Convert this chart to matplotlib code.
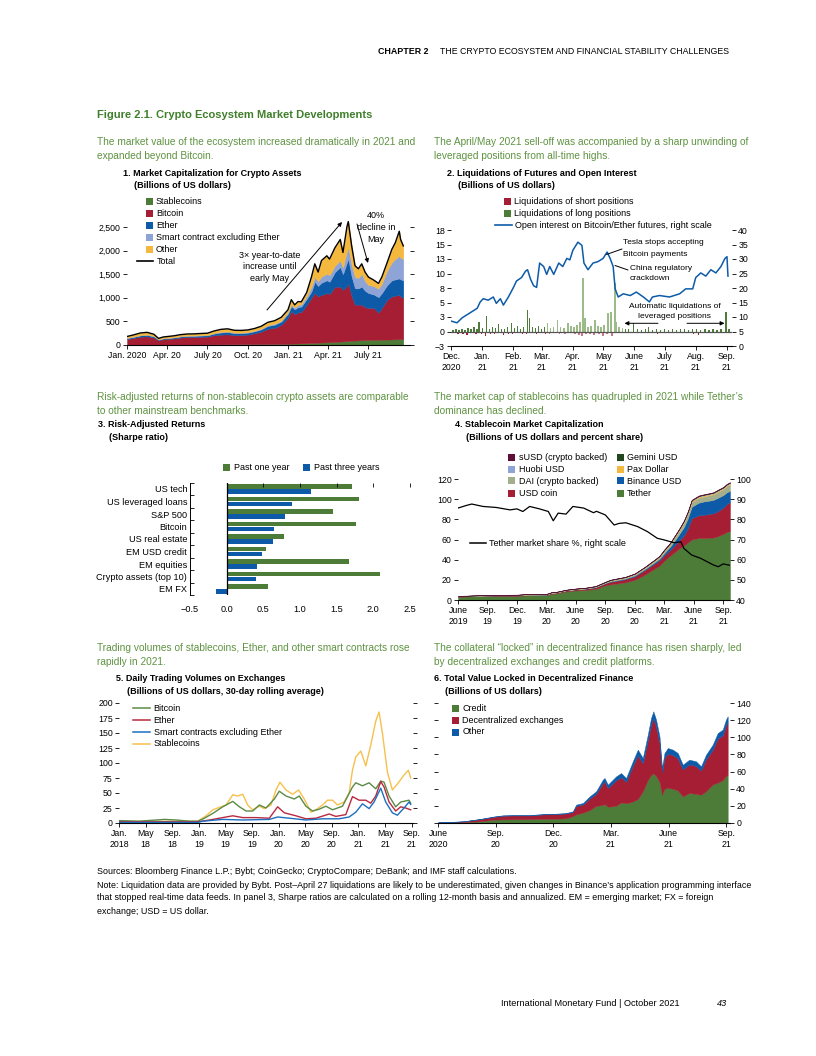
import matplotlib
matplotlib.use("Agg")
import matplotlib.pyplot as plt
from matplotlib.patches import Rectangle, FancyArrowPatch
from matplotlib.lines import Line2D
import numpy as np

plt.rcParams['font.family'] = ['Liberation Sans Narrow', 'Liberation Sans', 'DejaVu Sans']

# ---------------- data ----------------
# panel 1: market cap, months since Jan 2020
p1_month = [0, 0.5, 1, 1.5, 2, 2.35, 2.7, 3, 3.5, 4, 4.5, 5, 5.5, 6, 6.5, 7, 7.5, 8, 8.5, 9,
            9.5, 10, 10.5, 11, 11.5, 12, 12.25, 12.5, 12.75, 13, 13.4, 13.75, 14, 14.25, 14.5,
            14.9, 15.1, 15.5, 15.9, 16.1, 16.4, 16.5, 16.75, 17, 17.25, 17.5, 17.75, 18, 18.4,
            18.75, 19, 19.4, 19.75, 20, 20.3, 20.4, 20.6]
p1_stable = [5, 5, 5, 6, 6, 6, 7, 7, 8, 8, 9, 10, 11, 12, 13, 14, 16, 18, 19, 20,
             21, 22, 23, 24, 25, 27, 28, 30, 33, 35, 38, 42, 45, 48, 52,
             57, 60, 65, 72, 76, 82, 84, 90, 95, 98, 102, 106, 110, 111,
             112, 113, 115, 118, 120, 122, 123, 125]
p1_bitcoin = [120, 145, 170, 178, 150, 95, 115, 122, 130, 150, 160, 160, 162, 165, 195, 205, 210, 190, 190, 200,
              225, 260, 320, 340, 400, 548, 690, 620, 657, 665, 812, 958, 1055, 982, 1008,
              1043, 1020, 1170, 1163, 1089, 1168, 1221, 940, 760, 757, 753, 694, 675, 674,
              571, 672, 845, 912, 925, 938, 907, 870]
p1_ether = [20, 22, 28, 30, 25, 13, 16, 17, 20, 22, 23, 24, 26, 27, 35, 45, 48, 42, 40, 40,
            43, 48, 60, 65, 70, 85, 102, 105, 110, 115, 125, 130, 240, 220, 260,
            270, 260, 310, 415, 335, 500, 515, 420, 345, 345, 380, 350, 315, 285,
            330, 315, 310, 340, 345, 350, 360, 375]
p1_smart = [5, 6, 7, 8, 7, 4, 5, 5, 6, 7, 7, 7, 8, 8, 10, 12, 13, 12, 12, 12,
            12, 14, 18, 20, 22, 30, 40, 40, 45, 50, 60, 105, 100, 100, 130,
            140, 140, 135, 140, 140, 240, 245, 250, 240, 220, 275, 200, 170, 180,
            180, 200, 310, 380, 430, 480, 460, 450]
p1_other = [30, 37, 45, 46, 40, 22, 27, 28, 31, 33, 34, 35, 37, 38, 45, 55, 56, 50, 48, 47,
            48, 52, 60, 65, 70, 55, 100, 55, 75, 50, 80, 205, 280, 195, 340,
            380, 340, 380, 445, 320, 520, 550, 400, 240, 195, 210, 195, 170, 125,
            112, 140, 170, 280, 345, 520, 385, 280]
p1_ticks = [0, 3, 6, 9, 12, 15, 18]
p1_ticklabels = ['Jan. 2020', 'Apr. 20', 'July 20', 'Oct. 20', 'Jan. 21', 'Apr. 21', 'July 21']

# panel 2: liquidations and open interest, days since Dec 1 2020
long_days = [2, 5, 8, 11, 14, 17, 20, 23, 26, 28, 31, 35, 38, 41, 44, 47, 50, 53, 56, 60,
             63, 66, 69, 72, 76, 78, 81, 84, 87, 90, 93, 96, 99, 102, 106, 109, 112, 116, 119, 122,
             125, 128, 131, 133, 136, 139, 143, 146, 149, 152, 156, 159, 163, 164, 167, 170, 173, 176, 181, 185,
             189, 193, 196, 200, 204, 208, 212, 216, 220, 224, 228, 232, 236, 240, 244, 248, 252, 256, 260, 264,
             268, 273, 276]
long_vals = [0.3, 0.4, 0.2, 0.5, 0.3, 0.6, 0.4, 0.7, 0.5, 1.6, 0.6, 2.6, 0.5, 0.8, 0.6, 1.3, 0.5, 0.4, 0.7, 1.4,
             0.6, 0.9, 0.5, 0.8, 3.7, 2.3, 0.7, 0.6, 0.9, 0.5, 0.8, 1.4, 0.6, 0.7, 2.0, 0.8, 0.6, 1.4, 0.9, 0.7,
             1.1, 1.7, 9.3, 2.3, 0.8, 1.0, 2.0, 0.9, 0.7, 1.2, 3.2, 3.3, 8.4, 1.7, 0.8, 0.6, 0.5, 0.4, 1.4, 0.5,
             0.3, 0.4, 0.7, 0.3, 0.4, 0.3, 0.5, 0.3, 0.4, 0.3, 0.5, 0.4, 0.3, 0.4, 0.5, 0.3, 0.4, 0.3, 0.4, 0.3,
             0.4, 3.3, 0.4]
short_days = [3, 7, 12, 16, 21, 25, 30, 34, 39, 43, 48, 52, 57, 61, 66, 71, 75, 80, 85, 89,
              94, 98, 103, 108, 113, 118, 123, 127, 130, 134, 138, 142, 147, 151, 155, 160, 165, 171, 177, 184,
              191, 198, 205, 213, 220, 227, 234, 241, 246, 252, 259, 266, 272]
short_vals = [-0.3, -0.5, -0.4, -0.6, -0.3, -0.4, -0.5, -0.7, -0.4, -0.5, -0.3, -0.6, -0.4, -0.5, -0.3, -0.4, -0.5, -0.3, -0.4, -0.3,
              -0.5, -0.4, -0.3, -0.5, -0.4, -0.3, -0.5, -0.6, -0.8, -0.5, -0.4, -0.6, -0.5, -0.7, -0.4, -0.8, -0.3, -0.3, -0.2, -0.3,
              -0.2, -0.3, -0.4, -0.2, -0.3, -0.2, -0.3, -0.4, -0.6, -0.3, -0.2, -0.3, -0.2]
oi_days = [0, 6, 11, 16, 21, 26, 29, 32, 37, 42, 45, 49, 52, 57, 62, 65, 70, 74, 76, 79,
           82, 85, 88, 92, 95, 98, 102, 107, 111, 115, 118, 121, 126, 130, 132, 136, 141, 146, 151, 155,
           158, 161, 163, 166, 171, 178, 184, 191, 197, 200, 207, 217, 227, 233, 240, 243, 248, 253, 258, 263,
           268, 272, 274, 275]
oi_vals = [8.6, 8.0, 9.7, 10.8, 11.9, 13.0, 15.2, 16.3, 15.8, 16.9, 14.7, 16.3, 14.1, 16.9, 20.2, 22.4, 23.6, 25.8, 26.3, 23.0,
           20.8, 20.2, 28.6, 27.4, 24.7, 27.4, 24.7, 28.6, 27.4, 30.2, 29.7, 33.0, 35.8, 34.7, 28.6, 26.3, 28.6, 29.1, 30.2, 32.4,
           30.2, 27.4, 19.7, 16.9, 18.0, 17.4, 18.6, 16.9, 15.2, 16.9, 17.4, 16.9, 18.0, 19.7, 19.7, 23.6, 25.2, 24.1, 26.3, 25.2,
           27.4, 30.2, 30.8, 24.1]
p2_ticks = [0, 31, 62, 90, 121, 151, 182, 212, 243, 274]
p2_ticklabels = ['Dec.\n2020', 'Jan.\n21', 'Feb.\n21', 'Mar.\n21', 'Apr.\n21', 'May\n21',
                 'June\n21', 'July\n21', 'Aug.\n21', 'Sep.\n21']

# panel 3: Sharpe ratios
p3_cats = ['US tech', 'US leveraged loans', 'S&P 500', 'Bitcoin', 'US real estate',
           'EM USD credit', 'EM equities', 'Crypto assets (top 10)', 'EM FX']
p3_one_year = [1.71, 1.80, 1.45, 1.77, 0.78, 0.53, 1.67, 2.09, 0.56]
p3_three_year = [1.15, 0.89, 0.79, 0.64, 0.63, 0.48, 0.42, 0.40, -0.14]

# panel 4: stablecoins, months since June 2019
p4_month = [0, 1, 2, 3, 4, 5, 6, 7, 8, 9, 9.5, 10, 11, 12, 13, 14, 15, 15.5, 16, 17,
            18, 19, 20, 20.5, 21, 21.6, 22, 22.5, 23, 23.4, 23.8, 24.5, 25, 25.5, 26, 26.4, 27, 27.4, 27.7]
p4_tether = [3.2, 3.5, 3.8, 4.0, 4.1, 4.1, 4.1, 4.6, 4.6, 4.7, 6.2, 6.5, 8.5, 9.5, 10, 11, 14.5, 15.5, 16, 17.5,
             20, 25, 31, 34, 39, 44, 47, 51, 54, 57, 60, 61.5, 61.5, 61.7, 62, 63, 65.5, 67.5, 68.5]
p4_usdc = [0.4, 0.45, 0.45, 0.5, 0.5, 0.5, 0.5, 0.55, 0.6, 0.6, 0.7, 0.8, 0.9, 1.0, 1.2, 1.5, 2.0, 2.5, 2.8, 3.0,
           3.5, 4.5, 5.0, 5.3, 5.5, 5.5, 6.5, 8, 10, 14, 21, 22.5, 23, 23.5, 24, 24.8, 26, 28, 28.5]
p4_busd = [0, 0, 0, 0.02, 0.03, 0.05, 0.1, 0.15, 0.15, 0.15, 0.15, 0.15, 0.15, 0.15, 0.2, 0.2, 0.3, 0.4, 0.5, 0.6,
           0.8, 0.9, 1.3, 1.5, 2.0, 3.3, 4.5, 6, 8.2, 10, 11.5, 12.5, 13.2, 13.2, 13.3, 13.3, 12.5, 11.5, 11.3]
p4_dai = [0.08, 0.08, 0.08, 0.08, 0.08, 0.08, 0.08, 0.1, 0.1, 0.1, 0.1, 0.1, 0.12, 0.13, 0.2, 0.4, 0.5, 0.8, 0.9, 0.9,
          1.1, 1.3, 1.4, 1.5, 2.0, 2.3, 3.0, 3.5, 4.5, 4.8, 4.8, 5.0, 5.0, 5.3, 5.5, 5.8, 6.0, 6.3, 6.5]
p4_pax = [0.2, 0.22, 0.24, 0.25, 0.24, 0.24, 0.24, 0.23, 0.24, 0.25, 0.25, 0.25, 0.25, 0.25, 0.25, 0.25, 0.25, 0.28, 0.3, 0.35,
          0.4, 0.5, 0.6, 0.7, 0.75, 0.8, 0.85, 0.9, 0.95, 0.95, 0.95, 0.95, 0.95, 0.95, 0.95, 0.95, 0.95, 0.95, 0.95]
p4_huobi = [0.0, 0.0, 0.0, 0.01, 0.03, 0.05, 0.1, 0.13, 0.15, 0.15, 0.15, 0.15, 0.15, 0.2, 0.2, 0.25, 0.25, 0.25, 0.25, 0.25,
            0.25, 0.25, 0.3, 0.3, 0.35, 0.4, 0.45, 0.5, 0.6, 0.6, 0.6, 0.6, 0.6, 0.6, 0.6, 0.6, 0.6, 0.6, 0.6]
p4_gemini = [0.01, 0.01, 0.02, 0.02, 0.03, 0.03, 0.03, 0.03, 0.03, 0.03, 0.03, 0.03, 0.04, 0.05, 0.05, 0.06, 0.08, 0.1, 0.1, 0.1,
             0.1, 0.1, 0.12, 0.12, 0.15, 0.15, 0.15, 0.15, 0.2, 0.2, 0.2, 0.2, 0.2, 0.2, 0.2, 0.2, 0.2, 0.2, 0.2]
p4_susd = [0.2, 0.2, 0.2, 0.2, 0.2, 0.2, 0.2, 0.2, 0.2, 0.2, 0.2, 0.2, 0.2, 0.2, 0.25, 0.3, 0.3, 0.3, 0.3, 0.3,
           0.3, 0.3, 0.3, 0.35, 0.4, 0.4, 0.4, 0.4, 0.4, 0.4, 0.4, 0.4, 0.4, 0.4, 0.4, 0.4, 0.4, 0.4, 0.4]
p4_share_month = [0, 0.85, 1.4, 2.55, 3.9, 5.3, 6.0, 6.6, 7.3, 8.3, 9.2, 9.7, 10.2, 11.0, 11.7, 12.8, 13.8, 14.1,
                  15.0, 15.9, 16.4, 17.1, 18.3, 19.3, 20.3, 21.0, 22.0, 22.7, 23.0, 23.8, 24.7, 26.0, 26.5, 27.0, 27.7]
p4_tether_share = [85.6, 86.9, 87.6, 86.4, 85.9, 84.7, 85.2, 83.9, 86.4, 85.2, 83.9, 79.3, 83.1, 82.6, 86.4, 85.6, 83.3, 84.0,
                   82.2, 77.2, 78.0, 78.3, 76.4, 73.9, 70.6, 69.8, 68.4, 68.9, 65.6, 62.3, 60.7, 57.4, 56.5, 57.9, 57.2]
p4_ticks = [0, 3, 6, 9, 12, 15, 18, 21, 24, 27]
p4_ticklabels = ['June\n2019', 'Sep.\n19', 'Dec.\n19', 'Mar.\n20', 'June\n20', 'Sep.\n20',
                 'Dec.\n20', 'Mar.\n21', 'June\n21', 'Sep.\n21']

# panel 5: trading volumes, months since Jan 2018
btc_m = [0, 3, 6.85, 8.6, 10.6, 11.85, 12.85, 14.1, 15.6, 17.1, 18.1, 19.1, 20.1, 21.1, 22.1, 23.35, 24.1, 25.1, 26.35,
         27.1, 28.1, 29.1, 30.1, 31.1, 32.1, 33.6, 35.1, 35.6, 36.6, 37.6, 38.6, 39.35, 39.85, 40.6, 41.6, 42.35, 43.6, 43.85]
btc_vol = [4, 3, 6, 5, 3, 3, 8, 16, 27, 36, 27, 20, 20, 30, 25, 40, 53, 45, 40,
           45, 28, 20, 23, 28, 22, 28, 60, 67, 62, 67, 57, 70, 68, 45, 27, 35, 38, 33]
eth_m = [0, 6, 11.85, 13.6, 15.6, 17.1, 18.6, 20.6, 22.6, 23.85, 24.85, 26.6, 28.1, 29.6, 31.6, 32.6, 34.1, 35.1,
         36.1, 37.1, 37.85, 38.6, 39.35, 39.85, 40.6, 41.6, 42.35, 43.1, 43.85]
eth_vol = [2, 2, 2, 5, 9, 12, 9, 9, 8, 27, 17, 12, 7, 8, 15, 11, 14, 44,
           38, 38, 33, 45, 69, 60, 35, 20, 27, 25, 22]
smart_m = [0, 11.85, 12.6, 15.6, 18.6, 22.6, 23.85, 25.6, 28.1, 30.6, 33.1, 34.6, 35.6, 36.6, 37.6, 38.35, 39.35,
           40.1, 41.1, 41.85, 42.85, 43.6, 43.85]
smart_vol = [1, 1, 3, 6, 5, 6, 10, 8, 5, 7, 7, 10, 18, 32, 24, 35, 58,
             35, 17, 13, 25, 35, 31]
stable_m = [0, 4, 8, 11.85, 13.1, 14.1, 15.35, 16.1, 17.1, 17.85, 18.6, 19.35, 20.1, 21.1, 21.85, 22.85, 23.6, 24.2,
            25.1, 26.1, 27.0, 27.85, 28.85, 29.6, 30.6, 31.35, 32.1, 32.85, 33.85, 34.6, 35.1, 35.6, 36.35, 37.1,
            37.85, 38.6, 39.1, 39.6, 40.35, 41.1, 41.85, 42.85, 43.5, 43.85]
stable_vol = [3, 2.5, 3, 3, 12, 22, 27, 30, 47, 45, 48, 30, 22, 28, 24, 30, 55, 68,
              55, 48, 55, 40, 18, 22, 30, 38, 38, 30, 35, 50, 88, 110, 120, 95,
              130, 170, 185, 150, 85, 55, 65, 80, 88, 75]
p5_ticks = [0, 4, 8, 12, 16, 20, 24, 28, 32, 36, 40, 44]
p5_ticklabels = ['Jan.\n2018', 'May\n18', 'Sep.\n18', 'Jan.\n19', 'May\n19', 'Sep.\n19',
                 'Jan.\n20', 'May\n20', 'Sep.\n20', 'Jan.\n21', 'May\n21', 'Sep.\n21']

# panel 6: total value locked, months since June 2020
p6_month = [0, 1.3, 2.17, 2.95, 3.38, 3.9, 4.77, 5.46, 6.15, 6.67, 7.02, 7.19, 7.54, 7.89, 8.23, 8.58, 8.67, 8.84,
            9.27, 9.53, 9.79, 10.14, 10.4, 10.66, 10.92, 11.09, 11.21, 11.35, 11.53, 11.66, 11.79, 11.96, 12.22,
            12.48, 12.74, 13.08, 13.43, 13.69, 13.95, 14.3, 14.56, 14.82, 14.99, 15.08]
p6_credit = [0.3, 1.0, 2, 4, 4.2, 4.3, 4.5, 4.8, 5, 5.5, 8, 10, 12, 15, 20, 21, 22, 19,
             20, 24, 23, 25, 28, 37, 50, 56, 58, 55, 48, 33, 40, 41, 40,
             38, 31, 35, 34, 33, 37, 45, 47, 50, 55, 56]
p6_dex = [0.4, 0.8, 2.4, 3.3, 4.3, 4.5, 4.3, 5.2, 5.4, 5.6, 4.9, 9.9, 9.5, 13.5, 14, 25.6, 26.3, 21.7,
          29.9, 29.3, 25, 41.5, 51.1, 32.8, 46, 58.5, 64.3, 57.6, 45.5, 26.2, 35.7, 40, 39.1,
          37.7, 31.5, 33.4, 32.5, 28.1, 37.2, 40.4, 51.5, 52.4, 58.6, 61.5]
p6_other = [0.1, 0.2, 0.3, 0.5, 0.5, 0.5, 0.5, 0.5, 0.5, 0.6, 0.7, 1.5, 1.8, 2.5, 3, 4, 4.2, 4,
            4.5, 5, 4.5, 5.5, 6.5, 6, 7, 8, 8, 8, 7.5, 5, 6, 6.5, 6.5,
            6, 5.5, 5.5, 5.5, 5, 5.5, 6, 6.5, 6.5, 7, 7]
p6_ticks = [0, 3, 6, 9, 12, 15]
p6_ticklabels = ['June\n2020', 'Sep.\n20', 'Dec.\n20', 'Mar.\n21', 'June\n21', 'Sep.\n21']

# ---------------- style ----------------
GREEN = '#4d7c38'
LGREEN = '#9dba89'
RED = '#a61e34'
LRED = '#c97a86'
BLUE = '#0d5ba8'
LBLUE = '#8fa4d6'
YELLOW = '#f4b83f'
DAI_C = '#a3af8c'
GEMINI_C = '#22461d'
SUSD_C = '#5e0f38'
TITLE_GREEN = '#3f7f2b'
INTRO_GREEN = '#5f9342'

TICK = 6.3
LEG = 6.5
TITLE = 6.5
INTRO = 7.3

W, H = 816, 1056
fig = plt.figure(figsize=(W / 100, H / 100), dpi=100)


def px_axes(l, t, r, b):
    return fig.add_axes([l / W, 1 - b / H, (r - l) / W, (b - t) / H])


def ftext(x, y, s, **kw):
    kw.setdefault('va', 'center')
    kw.setdefault('ha', 'left')
    return fig.text(x / W, 1 - y / H, s, **kw)


def key_patch(x, y, color, label, w=7):
    fig.add_artist(Rectangle((x / W, 1 - (y + w / 2) / H), w / W, w / H,
                             transform=fig.transFigure, color=color, lw=0))
    ftext(x + w + 3.5, y, label, fontsize=LEG)


def key_line(x0, x1, y, color, label, lw=1.2):
    fig.add_artist(Line2D([x0 / W, x1 / W], [1 - y / H, 1 - y / H],
                          transform=fig.transFigure, color=color, lw=lw))
    ftext(x1 + 3.5, y, label, fontsize=LEG)


def farrow(x0, y0, x1, y1, style='-|>'):
    fig.add_artist(FancyArrowPatch((x0 / W, 1 - y0 / H), (x1 / W, 1 - y1 / H),
                                   transform=fig.transFigure, arrowstyle=style,
                                   mutation_scale=6, lw=0.7, color='black',
                                   shrinkA=0, shrinkB=0))


def base(ax):
    for s in ('top', 'left', 'right'):
        ax.spines[s].set_visible(False)
    ax.spines['bottom'].set_linewidth(0.8)
    ax.set_facecolor('none')
    ax.tick_params(labelsize=TICK, length=3, width=0.6, pad=1.5, direction='out')


# ---------------- page text ----------------
ftext(428, 52, 'CHAPTER 2', ha='right', fontsize=6.4, fontweight='bold')
ftext(440, 52, 'THE CRYPTO ECOSYSTEM AND FINANCIAL STABILITY CHALLENGES', fontsize=6.3)
ftext(97, 115, 'Figure 2.1. Crypto Ecosystem Market Developments', fontsize=8.05,
      fontweight='bold', color=TITLE_GREEN)

intros = [
    (97, 142, 'The market value of the ecosystem increased dramatically in 2021 and'),
    (97, 156, 'expanded beyond Bitcoin.'),
    (434, 142, 'The April/May 2021 sell-off was accompanied by a sharp unwinding of'),
    (434, 156, 'leveraged positions from all-time highs.'),
    (97, 397, 'Risk-adjusted returns of non-stablecoin crypto assets are comparable'),
    (97, 411, 'to other mainstream benchmarks.'),
    (434, 397, 'The market cap of stablecoins has quadrupled in 2021 while Tether\u2019s'),
    (434, 411, 'dominance has declined.'),
    (97, 648, 'Trading volumes of stablecoins, Ether, and other smart contracts rose'),
    (97, 662, 'rapidly in 2021.'),
    (434, 648, 'The collateral \u201clocked\u201d in decentralized finance has risen sharply, led'),
    (434, 662, 'by decentralized exchanges and credit platforms.'),
]
for x, y, s in intros:
    ftext(x, y, s, fontsize=INTRO, color=INTRO_GREEN)

titles = [
    (123, 173, '1. Market Capitalization for Crypto Assets'), (134, 185, '(Billions of US dollars)'),
    (447, 173, '2. Liquidations of Futures and Open Interest'), (458, 185, '(Billions of US dollars)'),
    (98, 424.5, '3. Risk-Adjusted Returns'), (109, 437, '(Sharpe ratio)'),
    (455, 424.5, '4. Stablecoin Market Capitalization'), (466, 437, '(Billions of US dollars and percent share)'),
    (116, 678.5, '5. Daily Trading Volumes on Exchanges'), (127, 691, '(Billions of US dollars, 30-day rolling average)'),
    (434, 678.5, '6. Total Value Locked in Decentralized Finance'), (445, 691, '(Billions of US dollars)'),
]
for x, y, s in titles:
    ftext(x, y, s, fontsize=TITLE, fontweight='bold')

notes = [
    'Sources: Bloomberg Finance L.P.; Bybt; CoinGecko; CryptoCompare; DeBank; and IMF staff calculations.',
    'Note: Liquidation data are provided by Bybt. Post\u2013April 27 liquidations are likely to be underestimated, '
    'given changes in Binance\u2019s application programming interface',
    'that stopped real-time data feeds. In panel 3, Sharpe ratios are calculated on a rolling 12-month basis '
    'and annualized. EM = emerging market; FX = foreign',
    'exchange; USD = US dollar.',
]
for i, s in enumerate(notes):
    ftext(97, 872 + 13 * i, s, fontsize=6.38)

ftext(680, 1004, 'International Monetary Fund | October 2021', ha='right', fontsize=6.6)
ftext(727, 1004, '43', ha='right', fontsize=6.6, style='italic')

# ---------------- panel 1 ----------------
ax1 = px_axes(127, 215.2, 410, 345)
base(ax1)
p1_total = np.sum([p1_stable, p1_bitcoin, p1_ether, p1_smart, p1_other], axis=0)
ax1.stackplot(p1_month, p1_stable, p1_bitcoin, p1_ether, p1_smart, p1_other,
              colors=[GREEN, RED, BLUE, LBLUE, YELLOW], lw=0.3, edgecolor='face')
ax1.plot(p1_month, p1_total, color='black', lw=1.0)
ax1.set_xlim(0, 21.1)
ax1.set_ylim(0, 2750)
ax1.set_yticks([0, 500, 1000, 1500, 2000, 2500],
               labels=['0', '500', '1,000', '1,500', '2,000', '2,500'])
ax1.set_xticks(p1_ticks, labels=p1_ticklabels)
ax1.tick_params(axis='y', right=True)

for i, (c, lab) in enumerate([(GREEN, 'Stablecoins'), (RED, 'Bitcoin'), (BLUE, 'Ether'),
                              (LBLUE, 'Smart contract excluding Ether'), (YELLOW, 'Other')]):
    key_patch(145.5, 201.7 + 11.85 * i, c, lab)
key_line(137, 153.3, 261, 'black', 'Total', lw=1.2)

for i, s in enumerate(['3\u00d7 year-to-date', 'increase until', 'early May']):
    ftext(270, 255 + 11.7 * i, s, ha='center', fontsize=6.5)
for i, s in enumerate(['40%', 'decline in', 'May']):
    ftext(375.7, 215 + 12 * i, s, ha='center', fontsize=6.5)
farrow(267, 310, 342, 222)
farrow(357, 224, 368, 263)

# ---------------- panel 2 ----------------
ax2 = px_axes(451, 221.3, 732, 346)
base(ax2)
# bars in the March-May stretch are drawn in the lighter shade, as in the source
long_cols = [LGREEN if 95 <= d <= 170 else GREEN for d in long_days]
short_cols = [LRED if 95 <= d <= 170 else RED for d in short_days]
ax2.bar(long_days, long_vals, width=1.4, color=long_cols, lw=0)
ax2.bar(short_days, short_vals, width=1.4, color=short_cols, lw=0)
ax2.axhline(0, color='#555555', lw=0.9)
ax2.set_xlim(0, 279)
ax2.set_ylim(-2.5, 19)
ax2.set_yticks([-2.5, 0, 2.5, 5, 7.5, 10, 12.5, 15, 17.5],
               labels=['\u22123', '0', '3', '5', '8', '10', '13', '15', '18'])
ax2.set_xticks(p2_ticks, labels=p2_ticklabels)
ax2r = ax2.twinx()
for s in ax2r.spines.values():
    s.set_visible(False)
ax2r.plot(oi_days, oi_vals, color=BLUE, lw=1.1)
ax2r.set_ylim(0, 43)
ax2r.set_yticks(range(0, 41, 5))
ax2r.tick_params(labelsize=TICK, length=3, width=0.6, pad=1.5, direction='out')

key_patch(504, 201.7, RED, 'Liquidations of short positions')
key_patch(504, 213.3, GREEN, 'Liquidations of long positions')
key_line(495, 511.7, 225, BLUE, 'Open interest on Bitcoin/Ether futures, right scale', lw=1.2)

ftext(623, 243, 'Tesla stops accepting', fontsize=6.0)
ftext(623, 254, 'Bitcoin payments', fontsize=6.0)
farrow(622, 249, 606.5, 254.5, style='-')
ftext(629.5, 268.5, 'China regulatory', fontsize=6.0)
ftext(629.5, 279, 'crackdown', fontsize=6.0)
farrow(628, 270, 615, 265.5, style='-')
ftext(674.5, 306, 'Automatic liquidations of', ha='center', fontsize=6.0)
ftext(674.5, 316.5, 'leveraged positions', ha='center', fontsize=6.0)
farrow(658, 323.3, 624.5, 323.3)
farrow(687, 323.3, 724.5, 323.3)

# ---------------- panel 3 ----------------
ax3 = px_axes(190, 482.75, 410, 595.25)
idx = np.arange(len(p3_cats))
ax3.barh(idx - 0.19, p3_one_year, height=0.37, color=GREEN, lw=0)
ax3.barh(idx + 0.19, p3_three_year, height=0.37, color=BLUE, lw=0)
ax3.axvline(0, color='black', lw=0.9)
ax3.set_xlim(-0.5, 2.5)
ax3.set_ylim(len(p3_cats) - 0.5, -0.5)
for s in ('top', 'right', 'bottom'):
    ax3.spines[s].set_visible(False)
ax3.spines['left'].set_linewidth(0.7)
ax3.set_facecolor('none')
ax3.set_yticks(idx, labels=p3_cats)
ax3.set_yticks(np.arange(-0.5, len(p3_cats), 1), minor=True)
ax3.tick_params(axis='y', which='major', length=0, pad=2, labelsize=6.6)
ax3.tick_params(axis='y', which='minor', length=3, width=0.6, direction='in')
ax3.set_xticks([-0.5, 0, 0.5, 1.0, 1.5, 2.0, 2.5],
               labels=['\u22120.5', '0.0', '0.5', '1.0', '1.5', '2.0', '2.5'])
ax3.tick_params(axis='x', bottom=False, top=True, labelbottom=True, length=3, width=0.6,
                direction='in', labelsize=6.6, pad=7)

key_patch(223.3, 467.3, GREEN, 'Past one year')
key_patch(303.3, 467.3, BLUE, 'Past three years')

# ---------------- panel 4 ----------------
ax4 = px_axes(458, 474, 730, 600)
base(ax4)
ax4.stackplot(p4_month, p4_tether, p4_usdc, p4_busd, p4_dai, p4_pax, p4_huobi, p4_gemini, p4_susd,
              colors=[GREEN, RED, BLUE, DAI_C, YELLOW, LBLUE, GEMINI_C, SUSD_C],
              lw=0.3, edgecolor='face')
ax4.set_xlim(0, 27.7)
ax4.set_ylim(0, 125)
ax4.set_yticks(range(0, 121, 20))
ax4.set_xticks(p4_ticks, labels=p4_ticklabels)
ax4r = ax4.twinx()
for s in ax4r.spines.values():
    s.set_visible(False)
ax4r.plot(p4_share_month, p4_tether_share, color='black', lw=0.9)
ax4r.set_ylim(40, 102.5)
ax4r.set_yticks(range(40, 101, 10))
ax4r.tick_params(labelsize=TICK, length=3, width=0.6, pad=1.5, direction='out')

col1 = [(SUSD_C, 'sUSD (crypto backed)'), (LBLUE, 'Huobi USD'),
        (DAI_C, 'DAI (crypto backed)'), (RED, 'USD coin')]
col2 = [(GEMINI_C, 'Gemini USD'), (YELLOW, 'Pax Dollar'),
        (BLUE, 'Binance USD'), (GREEN, 'Tether')]
rows4 = [457.3, 469, 481, 493.3]
for (c, lab), y in zip(col1, rows4):
    key_patch(508.3, y, c, lab)
for (c, lab), y in zip(col2, rows4):
    key_patch(616.7, y, c, lab)
key_line(470, 485.5, 543, 'black', 'Tether market share %, right scale', lw=1.1)

# ---------------- panel 5 ----------------
ax5 = px_axes(119, 700, 413, 823)
base(ax5)
ax5.plot(stable_m, stable_vol, color='#f6c04e', lw=1.0)
ax5.plot(btc_m, btc_vol, color='#5b8b45', lw=1.0)
ax5.plot(eth_m, eth_vol, color='#b82a40', lw=1.0)
ax5.plot(smart_m, smart_vol, color='#1d6fc0', lw=1.0)
ax5.set_xlim(0, 44.2)
ax5.set_ylim(0, 205)
ax5.set_yticks(range(0, 201, 25))
ax5.set_xticks(p5_ticks, labels=p5_ticklabels)
ax5.tick_params(axis='y', right=True)

for i, (c, lab) in enumerate([('#5b8b45', 'Bitcoin'), ('#b82a40', 'Ether'),
                              ('#1d6fc0', 'Smart contracts excluding Ether'), ('#f6c04e', 'Stablecoins')]):
    key_line(133.3, 150, 708.3 + 11.9 * i, c, lab, lw=1.1)

# ---------------- panel 6 ----------------
ax6 = px_axes(438, 701.3, 730, 823)
base(ax6)
ax6.stackplot(p6_month, p6_credit, p6_dex, p6_other, colors=[GREEN, RED, BLUE],
              lw=0.3, edgecolor='face')
ax6.set_xlim(0, 15.2)
ax6.set_ylim(0, 142)
ax6.set_yticks(range(0, 141, 20))
ax6.set_xticks(p6_ticks, labels=p6_ticklabels)
ax6.tick_params(axis='y', left=True, right=True, labelleft=False, labelright=True)

for i, (c, lab) in enumerate([(GREEN, 'Credit'), (RED, 'Decentralized exchanges'), (BLUE, 'Other')]):
    key_patch(452, 708.3 + 11.85 * i, c, lab)

fig.savefig('out.png', dpi=100)
